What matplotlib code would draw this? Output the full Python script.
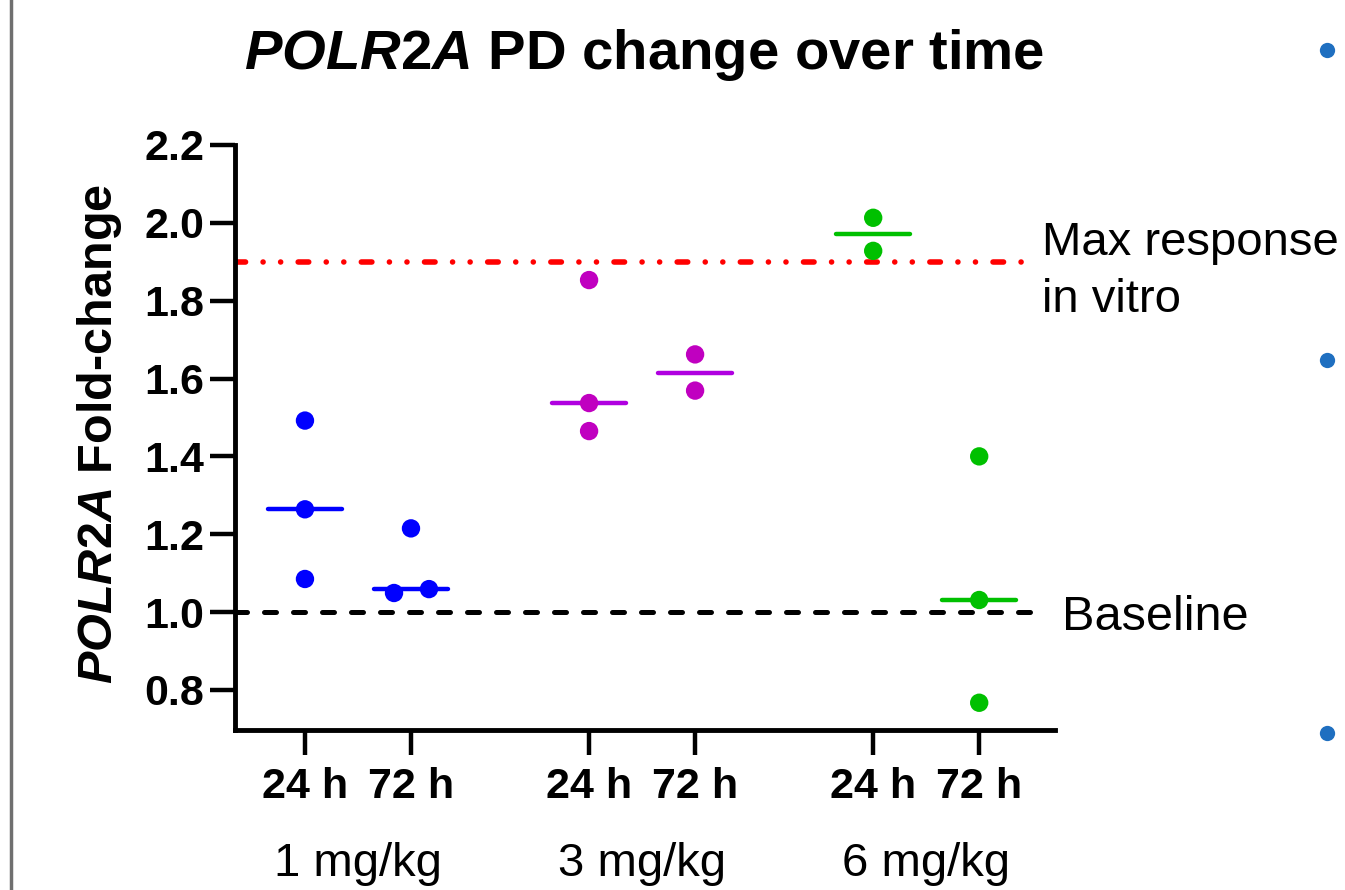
import matplotlib
matplotlib.use("Agg")
import matplotlib.pyplot as plt
import matplotlib.transforms as mtrans
import numpy as np

plt.rcParams['font.family'] = ['Liberation Sans', 'DejaVu Sans']
plt.rcParams['mathtext.fontset'] = 'custom'
plt.rcParams['mathtext.it'] = 'Liberation Sans:italic:bold'
plt.rcParams['mathtext.rm'] = 'Liberation Sans:bold'
plt.rcParams['mathtext.bf'] = 'Liberation Sans:bold'

# ---------------- data ----------------
doses = ["1 mg/kg", "3 mg/kg", "6 mg/kg"]
times = ["24 h", "72 h"]
colors_pts = ["#0000FF", "#C000C0", "#00C000"]
colors_med = ["#0000FF", "#B000E0", "#00C000"]

vals_1_24 = [1.492, 1.264, 1.085]
vals_1_72 = [1.215, 1.049, 1.059]
vals_3_24 = [1.853, 1.537, 1.465]
vals_3_72 = [1.662, 1.569]
vals_6_24 = [2.013, 1.928]
vals_6_72 = [1.400, 1.031, 0.767]
jit_1_72 = [0.0, -0.16, 0.17]

groups = [[vals_1_24, vals_1_72], [vals_3_24, vals_3_72], [vals_6_24, vals_6_72]]
jitters = [[None, jit_1_72], [None, None], [None, None]]

baseline = 1.0
max_resp = 1.9
yticks = [0.8, 1.0, 1.2, 1.4, 1.6, 1.8, 2.0, 2.2]

# ---------------- figure ----------------
fig = plt.figure(figsize=(13.45, 8.9), dpi=100)
ax = fig.add_axes([235/1345, 1-730/890, (1055-235)/1345, (730-145)/890])

gap = 2.68
xpos = []
xlabels = []
for g, dose in enumerate(doses):
    for t, tl in enumerate(times):
        x0 = g*gap + t
        xpos.append(x0)
        xlabels.append(tl)
        v = np.array(groups[g][t])
        jit = jitters[g][t]
        xs = x0 + (np.array(jit) if jit is not None else np.zeros(len(v)))
        med = np.median(v)
        ax.plot([x0-0.35, x0+0.35], [med, med], color=colors_med[g], lw=3.2,
                solid_capstyle='round', zorder=3)
        ax.scatter(xs, v, s=175, color=colors_pts[g], edgecolors='none', zorder=4)

ax.set_xlim(-0.66, 7.075)
ax.set_ylim(0.697, 2.2)

# reference lines
ax.axhline(baseline, xmin=0, xmax=(1040-235)/820, color='black', lw=3.6,
           dashes=(2.4, 3.4), dash_capstyle='round', zorder=2)
ax.axhline(max_resp, xmin=0, xmax=(1030-235)/820, color='#FF0000', lw=4.0,
           dashes=(1.9, 3.15, 0.01, 3.15, 0.01, 3.15), dash_capstyle='round', zorder=2)

ftr = fig.transFigure
fig.text(1042/1345, 1-255/890, "Max response", fontsize=34, va='baseline', ha='left')
fig.text(1042/1345, 1-312/890, "in vitro", fontsize=34, va='baseline', ha='left')
fig.text(1062/1345, 1-630/890, "Baseline", fontsize=35, va='baseline', ha='left')

for s in ['top', 'right']:
    ax.spines[s].set_visible(False)
for s in ['left', 'bottom']:
    ax.spines[s].set_linewidth(3.5)
ax.spines['left'].set_bounds(0.697, 2.2)

ax.set_yticks(yticks)
ax.set_yticklabels([f"{y:.1f}" for y in yticks], fontsize=31, fontweight='bold')
ax.tick_params(axis='y', length=18, width=3.2, pad=4)
ax.set_xticks(xpos)
ax.set_xticklabels(xlabels, fontsize=31, fontweight='bold')
ax.tick_params(axis='x', length=18, width=3.2, pad=9)

btr = mtrans.blended_transform_factory(ax.transData, fig.transFigure)
for g, dose in enumerate(doses):
    xc = g*gap + 0.5
    ax.text(xc, 1-876/890, dose, transform=btr, fontsize=34,
            ha='center', va='baseline')

fig.text(644/1345, 1-69/890, r"$\mathit{POLR2A}$ PD change over time", fontsize=40.5,
         fontweight='bold', ha='center', va='baseline')
fig.text(99/1345, 1-434/890, r"$\mathit{POLR2A}$ Fold-change", fontsize=35,
         fontweight='bold', ha='center', va='center', rotation=90)

# slide decorations
fig.add_artist(plt.Line2D([11/1345, 11/1345], [0, 1], transform=ftr,
                          color='#6f6f6f', lw=2.5))
for yb in [50, 360, 733]:
    fig.add_artist(plt.Line2D([1327/1345], [1-yb/890], transform=ftr,
                              marker='o', ms=11, color='#1F6FC0', mec='none', ls='none'))

fig.savefig("out.png", dpi=100)
